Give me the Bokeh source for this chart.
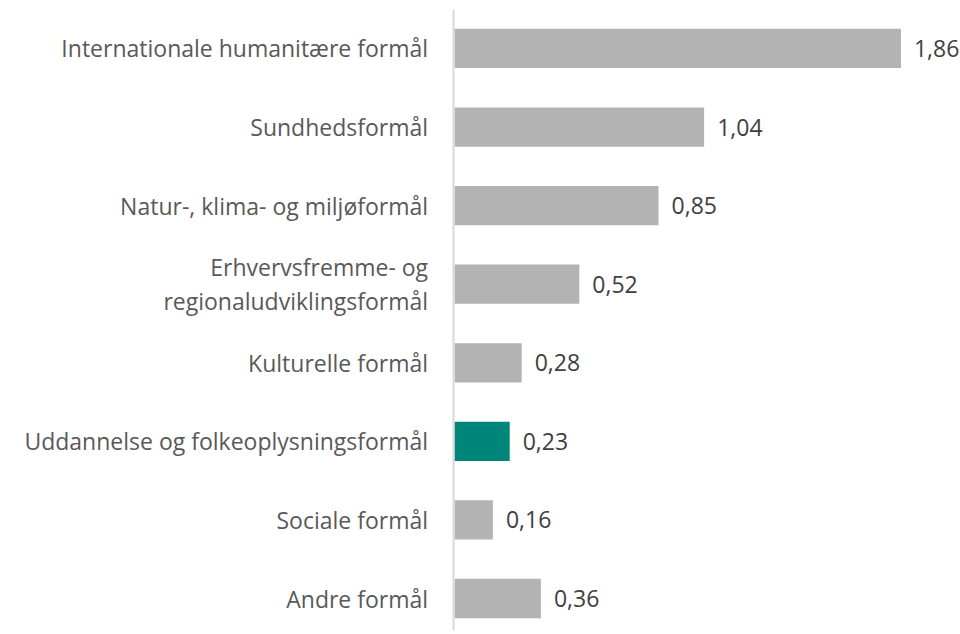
from bokeh.plotting import figure
from bokeh.models import ColumnDataSource, Range1d, Span
from bokeh.core.properties import value
from bokeh.embed import file_html
from bokeh.resources import INLINE

categories = [
    "Internationale humanitære formål",
    "Sundhedsformål",
    "Natur-, klima- og miljøformål",
    "Erhvervsfremme- og\nregionaludviklingsformål",
    "Kulturelle formål",
    "Uddannelse og folkeoplysningsformål",
    "Sociale formål",
    "Andre formål",
]
values = [1.86, 1.04, 0.85, 0.52, 0.28, 0.23, 0.16, 0.36]
value_labels = ["1,86", "1,04", "0,85", "0,52", "0,28", "0,23", "0,16", "0,36"]
highlight = "Uddannelse og folkeoplysningsformål"

GRAY = "#b3b3b3"
TEAL = "#00857a"

n = len(categories)
ypos = [n - 1 - i for i in range(n)]
colors = [TEAL if c == highlight else GRAY for c in categories]

src = ColumnDataSource(dict(y=ypos, v=values, cat=categories, lab=value_labels, color=colors,
                            lx=[-0.11] * n))

p = figure(width=960, height=630, output_backend="svg", toolbar_location=None,
           x_range=Range1d(-1.858, 2.108), y_range=Range1d(-0.407, 7.496),
           min_border_top=9, min_border_bottom=0, min_border_left=8, min_border_right=0)
p.axis.visible = False
p.grid.visible = False
p.outline_line_color = None
p.background_fill_color = "white"

p.hbar(y="y", right="v", left=0, height=0.5, color="color", line_color=None, source=src)

p.add_layout(Span(location=-0.004, dimension="height", line_color="#d9d9d9", line_width=2))

p.text(x="lx", y="y", text="cat", source=src, text_align="right", text_baseline="middle",
       text_font=value("Open Sans"), text_font_size="23px", text_color="#595959",
       text_line_height=1.07)
p.text(x="v", y="y", text="lab", source=src, text_align="left", text_baseline="middle",
       x_offset=13, text_font=value("Open Sans"), text_font_size="23px", text_color="#404040")

open("out.html", "w").write(file_html(p, INLINE))
